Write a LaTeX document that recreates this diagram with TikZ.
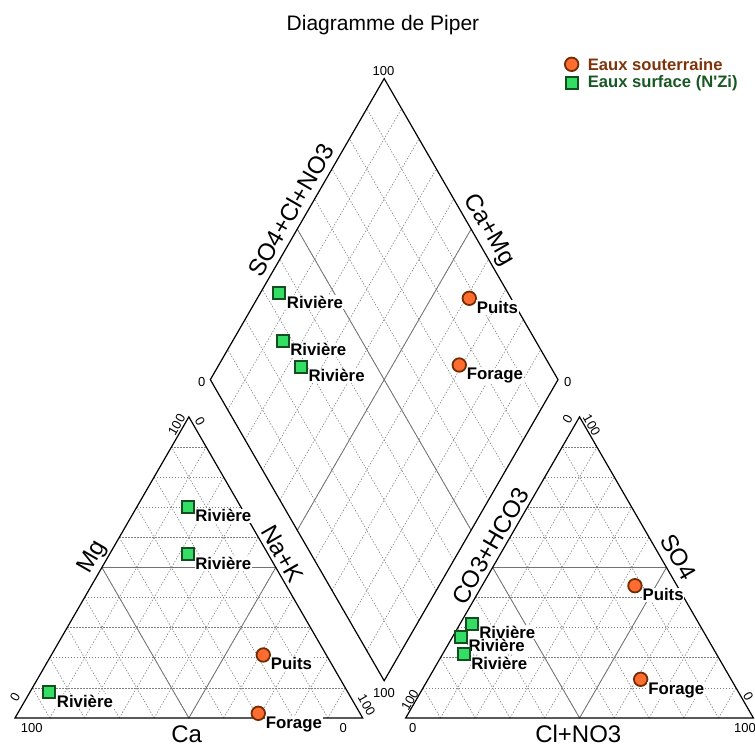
\documentclass[tikz,border=0pt]{standalone}
\usepackage{fontspec}
\setmainfont{Liberation Sans}
\newfontfamily\legfont{Liberation Sans}
\usetikzlibrary{calc}
\definecolor{souterr}{RGB}{255,108,48}
\definecolor{souterrbord}{RGB}{115,45,5}
\definecolor{surf}{RGB}{52,222,100}
\definecolor{surfbord}{RGB}{18,78,32}
\definecolor{legsout}{RGB}{125,52,10}
\definecolor{legsurf}{RGB}{24,88,36}
\begin{document}
\begin{tikzpicture}[
        x=3.477pt, y=3.477pt, % 100 % = cote du triangle
        bord/.style = {line width=1.2pt, line join=miter}, % contours
        quad/.style = {black!50, line width=0.6pt, dash pattern=on 1.4pt off 1.6pt}, % grille 10 %
        demi/.style = {black!55, line width=0.8pt}, % lignes 50 %
        tick/.style = {font=\fontsize{13}{15}\selectfont, inner sep=0pt},
        axe/.style = {font=\fontsize{24}{28}\selectfont, inner sep=0pt},
        puits/.style = {circle, draw=souterrbord, fill=souterr, line width=1.8pt, minimum size=13.5pt, inner sep=0pt},
        riv/.style = {rectangle, draw=surfbord, fill=surf, line width=1.9pt, minimum size=12pt, inner sep=0pt},
        nom/.style = {anchor=base west, fill=white, inner sep=0.8pt, font=\bfseries\fontsize{16.8}{19}\selectfont},
        leg/.style = {anchor=west, inner sep=0pt, font=\legfont\bfseries\fontsize{16.6}{19}\selectfont},
    ]
    \useasboundingbox (-4.314,-8.340) rectangle (212.83,206.5);

    % sommets
    \coordinate (CaA) at (0,0);
    \coordinate (CaB) at (100,0);
    \coordinate (CaC) at (50,86.6);
    \coordinate (AnA) at (112.37,0);
    \coordinate (AnB) at (212.37,0);
    \coordinate (AnC) at (162.37,86.6);
    \coordinate (LoB) at (106.18,10.71);
    \coordinate (LoL) at (56.18,97.31);
    \coordinate (LoT) at (106.18,183.91);
    \coordinate (LoR) at (156.18,97.31);

    % grilles des triangles
    \foreach \tri in {Ca,An} {
        \foreach \i in {1,...,9} {
            \draw[quad] ($(\tri A)!\i/10!(\tri C)$) -- ($(\tri B)!\i/10!(\tri C)$);
            \draw[quad] ($(\tri A)!\i/10!(\tri B)$) -- ($(\tri C)!\i/10!(\tri B)$);
            \draw[quad] ($(\tri B)!\i/10!(\tri A)$) -- ($(\tri C)!\i/10!(\tri A)$);
        }
        \draw[demi] ($(\tri A)!.5!(\tri B)$) -- ($(\tri A)!.5!(\tri C)$) -- ($(\tri B)!.5!(\tri C)$) -- cycle;
        \draw[bord] (\tri A) -- (\tri B) -- (\tri C) -- cycle;
    }

    % grille du losange
    \foreach \i in {1,...,9} {
        \draw[quad] ($(LoB)!\i/10!(LoL)$) -- ($(LoR)!\i/10!(LoT)$);
        \draw[quad] ($(LoB)!\i/10!(LoR)$) -- ($(LoL)!\i/10!(LoT)$);
    }
    \draw[demi] ($(LoB)!.5!(LoL)$) -- ($(LoR)!.5!(LoT)$);
    \draw[demi] ($(LoB)!.5!(LoR)$) -- ($(LoL)!.5!(LoT)$);
    \draw[bord] (LoB) -- (LoR) -- (LoT) -- (LoL) -- cycle;

    % graduations
    \foreach \x/\y/\r/\t [count=\k] in {
            4.80/-2.96/0/100, 94.42/-2.96/0/0, 0/6.13/60/0, 46.5/84.3/60/100,
            53.2/85.2/-60/0, 101.15/3.74/-60/100,
            114.38/-2.96/0/0, 209.95/-2.96/0/100, 113.6/5.18/60/100, 158.95/85.9/60/0,
            165.86/84.27/-60/100, 210.9/6.13/-60/0,
            106.0/186.2/0/100, 53.7/96.55/0/0, 158.95/96.55/0/0, 106.13/7.1/0/100}
        \node[tick, rotate=\r] (tk\k) at (\x,\y) {\t};

    % axes
    \node[axe] (ca) at (49.38,-4.55) {Ca};
    \node[axe, rotate=60] (mg) at (22.43,46.3) {Mg};
    \node[axe, rotate=-60] (nak) at (76.88,47.17) {Na+K};
    \node[axe] (cl) at (162.0,-4.55) {Cl+NO3};
    \node[axe, rotate=-60] (so) at (190.77,46.39) {SO4};
    \node[axe, rotate=60] (co) at (136.8,49.55) {CO3+HCO3};
    \node[axe, rotate=60] (socl) at (79.29,146.1) {SO4+Cl+NO3};
    \node[axe, rotate=-60] (camg) at (136.12,140.35) {Ca+Mg};

    \node[anchor=base, inner sep=0pt, font=\fontsize{21}{25}\selectfont] (titre) at (105.84,197.6) {Diagramme de Piper};

    % legende
    \node[puits] (legA) at (160.1,188.0) {};
    \node[leg, text=legsout] (legAt) at ([xshift=16pt]legA.center) {Eaux souterraine};
    \node[riv] (legB) at (160.1,182.5) {};
    \node[leg, text=legsurf] (legBt) at ([xshift=16pt]legB.center) {Eaux surface (N'Zi)};

    % points : triangle des cations
    \node[riv] (c1) at (49.67,60.77) {};
    \node[nom] (c1n) at ([shift={(1.9,-4.3)}]c1.center) {Rivière};
    \node[riv] (c2) at (49.67,47.08) {};
    \node[nom] (c2n) at ([shift={(1.9,-4.3)}]c2.center) {Rivière};
    \node[riv] (c3) at (9.86,7.39) {};
    \node[nom] (c3n) at ([shift={(1.9,-4.3)}]c3.center) {Rivière};
    \node[puits] (c4) at (71.41,18.12) {};
    \node[nom] (c4n) at ([shift={(1.9,-4.3)}]c4.center) {Puits};
    \node[puits] (c5) at (69.97,1.35) {};
    \node[nom] (c5n) at ([shift={(1.9,-4.3)}]c5.center) {Forage};

    % points : triangle des anions
    \node[puits] (a1) at (178.3,38.05) {};
    \node[nom] (a1n) at ([shift={(1.9,-4.3)}]a1.center) {Puits};
    \node[puits] (a2) at (179.95,11.13) {};
    \node[nom] (a2n) at ([shift={(1.9,-4.3)}]a2.center) {Forage};
    \node[riv] (a3) at (131.35,27.03) {};
    \node[nom] (a3n) at ([shift={(1.9,-4.1)}]a3.center) {Rivière};
    \node[riv] (a4) at (128.27,23.21) {};
    \node[nom] (a4n) at ([shift={(1.9,-4.1)}]a4.center) {Rivière};
    \node[riv] (a5) at (129.05,18.32) {};
    \node[nom] (a5n) at ([shift={(1.9,-4.3)}]a5.center) {Rivière};

    % points : losange
    \node[riv] (d1) at (76.01,122.15) {};
    \node[nom] (d1n) at ([shift={(1.9,-4.3)}]d1.center) {Rivière};
    \node[riv] (d2) at (76.99,108.43) {};
    \node[nom] (d2n) at ([shift={(1.9,-4.3)}]d2.center) {Rivière};
    \node[riv] (d3) at (82.25,101.04) {};
    \node[nom] (d3n) at ([shift={(1.9,-4.3)}]d3.center) {Rivière};
    \node[puits] (d4) at (130.66,120.71) {};
    \node[nom] (d4n) at ([shift={(1.9,-4.3)}]d4.center) {Puits};
    \node[puits] (d5) at (127.78,101.52) {};
    \node[nom] (d5n) at ([shift={(1.9,-4.3)}]d5.center) {Forage};

\end{tikzpicture}
\end{document}
